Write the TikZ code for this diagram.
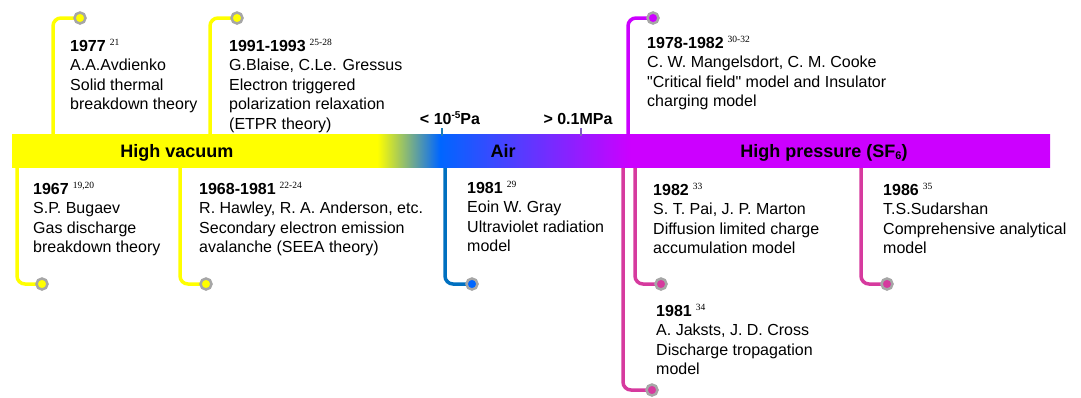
\documentclass[tikz,border=0pt]{standalone}
\usepackage{fontspec}
\setmainfont{Liberation Sans}
\newfontfamily\reffont{Liberation Serif}
\newfontfamily\qfont{Liberation Sans}
\usetikzlibrary{backgrounds}
\definecolor{vyellow}{HTML}{FFFF00}
\definecolor{vblue}{HTML}{0066FF}
\definecolor{lblue}{HTML}{0070C0}
\definecolor{vpurple}{HTML}{CC00FF}
\definecolor{vpink}{HTML}{D63A9E}
\definecolor{ring}{HTML}{A6A6A6}
\definecolor{tickblue}{HTML}{1F7FB8}
\definecolor{tickpurple}{HTML}{7F5FC0}
\pgfdeclarehorizontalshading{barshade}{100bp}{color(0bp)=(vyellow); color(42.6bp)=(vyellow); color(45.6bp)=(vblue); color(54.8bp)=(vpurple); color(100bp)=(vpurple)}
\newcommand\refs[1]{\hspace{4pt}\raisebox{6pt}{\fontsize{9.5}{10}\selectfont\reffont #1}}
\newcommand\yr[2]{\textbf{#1}\refs{#2}}
\newcommand\blk[1]{\begin{tabular}[t]{@{}l@{}}#1\end{tabular}}
\newcommand\dq{{\qfont\symbol{34}}}
\tikzset{
  x=1pt, y=-1pt,
  barbox/.style={rectangle, inner sep=0pt, minimum width=1038pt, minimum height=33pt, shading=barshade},
  barlabel/.style={anchor=base, inner sep=0pt, font=\fontsize{18}{20}\selectfont\bfseries},
  ticklabel/.style={anchor=base, inner sep=0pt, font=\fontsize{16}{18}\selectfont\bfseries},
  txt/.style={anchor=base west, inner sep=0pt, font=\fontsize{16}{19.5}\selectfont},
  dot/.style={circle, inner sep=0pt, minimum size=11pt, draw=ring, line width=2.5pt, fill=#1},
  conn/.style={line width=3.5pt, draw=#1, rounded corners=8pt},
}
\begin{document}
\begin{tikzpicture}
\useasboundingbox (0,0) rectangle (1081,397);
% bar
\node[barbox] (bar) at (531,150.5) {};
\node[barlabel] (hv) at (177,157) {High vacuum};
\node[barlabel] (air) at (503,157) {Air};
\node[barlabel] (hp) at (824,157) {High pressure (SF{\fontsize{11}{11}\selectfont\raisebox{-2.5pt}{6}})};
% tick labels
\node[ticklabel] (p1) at (450,124) {< 10\raisebox{5.5pt}{\fontsize{10}{10}\selectfont -5}Pa};
\node[ticklabel] (p2) at (578,124) {> 0.1MPa};
\coordinate (k1) at (442,128);
\coordinate (k2) at (581,128);
\coordinate (k1b) at (442,136);
\coordinate (k2b) at (581,136);
\draw[tickblue, line width=1.5pt] (k1) -- (k1b);
\draw[tickpurple, line width=1.5pt] (k2) -- (k2b);
% dots
\node[dot=vyellow] (d1) at (80,18) {};
\node[dot=vyellow] (d2) at (237,18) {};
\node[dot=vpurple] (d3) at (653,18) {};
\node[dot=vyellow] (d4) at (42,284) {};
\node[dot=vyellow] (d5) at (206,284) {};
\node[dot=vblue] (d6) at (472,284) {};
\node[dot=vpink] (d7) at (661,284) {};
\node[dot=vpink] (d8) at (652,390) {};
\node[dot=vpink] (d9) at (887,284) {};
% bar attachment points
\coordinate (a1) at (53,140);
\coordinate (a2) at (210,140);
\coordinate (a3) at (628,140);
\coordinate (a4) at (17,160);
\coordinate (a5) at (180,160);
\coordinate (a6) at (445,160);
\coordinate (a7) at (635,160);
\coordinate (a8) at (623,160);
\coordinate (a9) at (861,160);
\begin{pgfonlayer}{background}
\draw[conn=vyellow] (d1.center) -| (a1);
\draw[conn=vyellow] (d2.center) -| (a2);
\draw[conn=vpurple] (d3.center) -| (a3);
\draw[conn=vyellow] (d4.center) -| (a4);
\draw[conn=vyellow] (d5.center) -| (a5);
\draw[conn=lblue] (d6.center) -| (a6);
\draw[conn=vpink] (d7.center) -| (a7);
\draw[conn=vpink] (d8.center) -| (a8);
\draw[conn=vpink] (d9.center) -| (a9);
\end{pgfonlayer}
% texts
\node[txt] (t1) at (70,51) {\blk{\yr{1977}{21}\\ A.A.Avdienko\\ Solid thermal\\ breakdown theory}};
\node[txt] (t2) at (229,51) {\blk{\yr{1991-1993}{25-28}\\ G.Blaise, C.Le. Gressus\\ Electron triggered\\ polarization relaxation\\ (ETPR theory)}};
\node[txt] (t3) at (647,48) {\blk{\yr{1978-1982}{30-32}\\ C. W. Mangelsdort, C. M. Cooke\\ \dq Critical field\dq{} model and Insulator\\ charging model}};
\node[txt] (t4) at (33,194) {\blk{\yr{1967}{19,20}\\ S.P. Bugaev\\ Gas discharge\\ breakdown theory}};
\node[txt] (t5) at (199,194) {\blk{\yr{1968-1981}{22-24}\\ R. Hawley, R. A. Anderson, etc.\\ Secondary electron emission\\ avalanche (SEEA theory)}};
\node[txt] (t6) at (467,193) {\blk{\yr{1981}{29}\\ Eoin W. Gray\\ Ultraviolet radiation\\ model}};
\node[txt] (t7) at (653,195) {\blk{\yr{1982}{33}\\ S. T. Pai, J. P. Marton\\ Diffusion limited charge\\ accumulation model}};
\node[txt] (t8) at (656,316) {\blk{\yr{1981}{34}\\ A. Jaksts, J. D. Cross\\ Discharge tropagation\\ model}};
\node[txt] (t9) at (883,195) {\blk{\yr{1986}{35}\\ T.S.Sudarshan\\ Comprehensive analytical\\ model}};
\end{tikzpicture}
\end{document}
